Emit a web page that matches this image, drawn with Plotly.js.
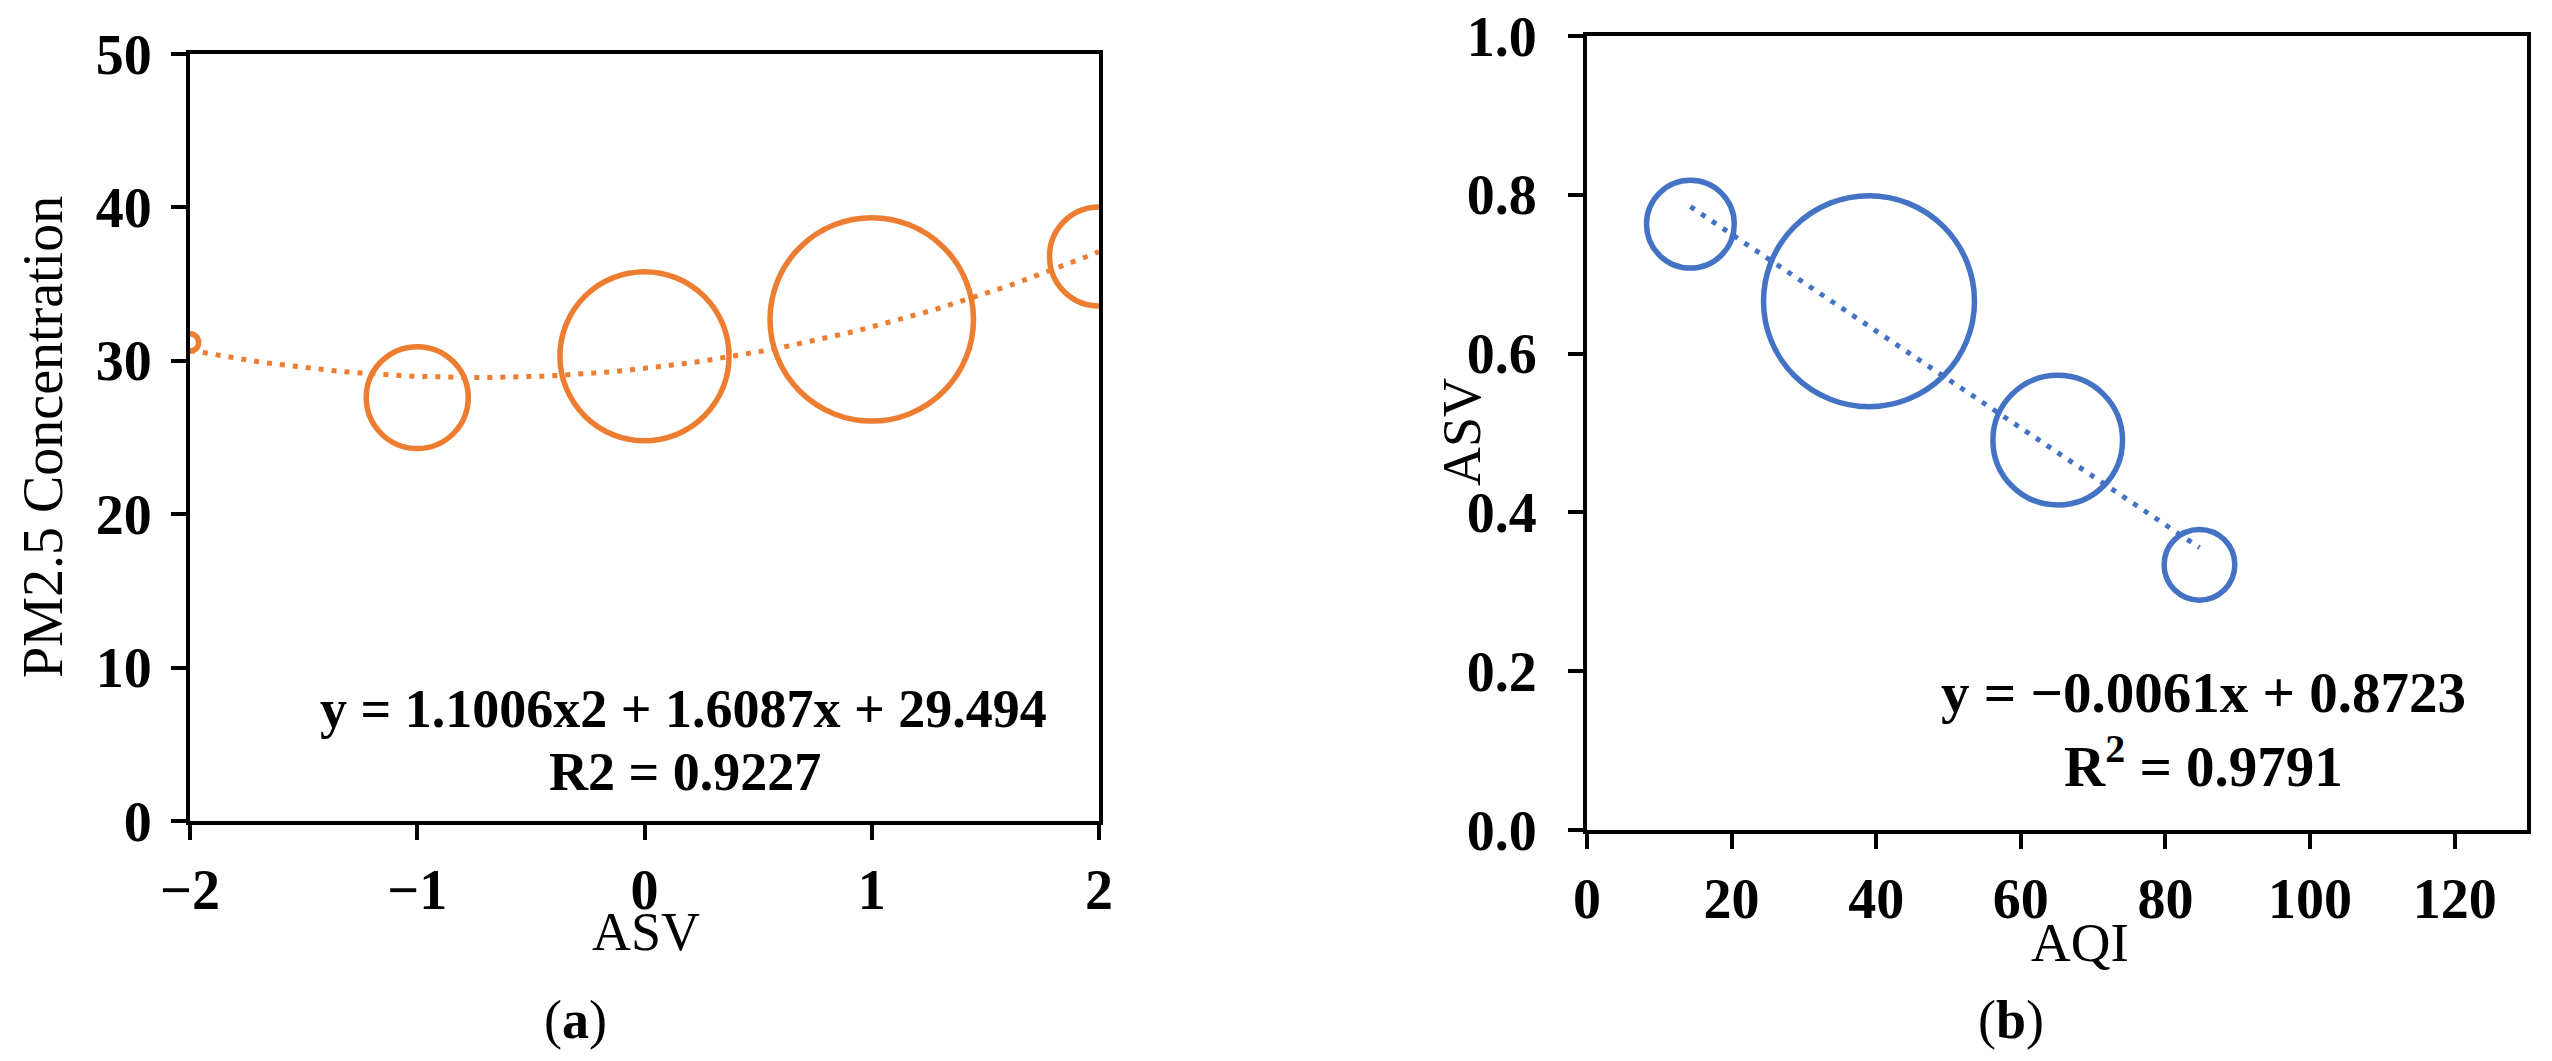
<!DOCTYPE html>
<html>
<head>
<meta charset="utf-8">
<script src="https://cdn.plot.ly/plotly-3.0.1.min.js"></script>
<style>html,body{margin:0;padding:0;background:#fff;}#chart{width:2552px;height:1061px;}</style>
</head>
<body>
<div id="chart"></div>
<script>
// ---- Panel (a): ASV vs PM2.5 ----
const asvA = [-2, -1, 0, 1, 2];
const pm25 = [31.2, 27.6, 30.3, 32.7, 36.8];
const bubbleA = [3, 104, 286, 414, 98];
const trendA = [1.1006, 1.6087, 29.494]; // y = a x^2 + b x + c
const eqA1 = 'y = 1.1006x2 + 1.6087x + 29.494';
const eqA2 = 'R2 = 0.9227';

// ---- Panel (b): AQI vs ASV ----
const aqi = [14.3, 39.0, 65.1, 84.7];
const asvB = [0.763, 0.666, 0.491, 0.334];
const bubbleB = [77, 445, 168, 50];
const trendB = [-0.0061, 0.8723]; // y = m x + k
const eqB1 = 'y = \u22120.0061x + 0.8723';
const eqB2 = 'R<sup>2</sup> = 0.9791';

const W = 2552, H = 1061;
const orange = '#ED7D31', blue = '#4472C4';
const serif = 'Liberation Serif, Times New Roman, serif';

// trendline samples from the stated equations
const tAx = [], tAy = [];
for (let i = 0; i <= 80; i++) {
  const x = asvA[0] + (asvA[asvA.length - 1] - asvA[0]) * i / 80;
  tAx.push(x); tAy.push(trendA[0] * x * x + trendA[1] * x + trendA[2]);
}
const bx0 = Math.min(...aqi), bx1 = Math.max(...aqi);
const tBx = [bx0, bx1], tBy = tBx.map(x => trendB[0] * x + trendB[1]);

const traces = [
  {x: tAx, y: tAy, mode: 'lines', xaxis: 'x', yaxis: 'y',
   line: {color: orange, width: 5, dash: '5px,8px'}, hoverinfo: 'skip'},
  {x: asvA, y: pm25, mode: 'markers', xaxis: 'x', yaxis: 'y',
   marker: {size: bubbleA, sizemode: 'area', sizeref: 0.02, color: 'rgba(0,0,0,0)', opacity: 1,
            line: {color: orange, width: 5.5}}},
  {x: tBx, y: tBy, mode: 'lines', xaxis: 'x2', yaxis: 'y2',
   line: {color: blue, width: 5, dash: '5px,8px'}, hoverinfo: 'skip'},
  {x: aqi, y: asvB, mode: 'markers', xaxis: 'x2', yaxis: 'y2',
   marker: {size: bubbleB, sizemode: 'area', sizeref: 0.02, color: 'rgba(0,0,0,0)', opacity: 1,
            line: {color: blue, width: 5.5}}}
];

const tickFont = {family: serif, size: 56, color: '#000', weight: 'bold'};
const axBase = {
  showgrid: false, zeroline: false, showline: true, linecolor: '#000', linewidth: 4,
  mirror: true, ticks: 'outside', ticklen: 15, tickwidth: 4, tickcolor: '#000',
  tickfont: tickFont, fixedrange: true
};

const px = v => v / W, py = v => 1 - v / H;

function ann(text, x, y, size, bold, angle) {
  return {text: text, xref: 'paper', yref: 'paper', x: px(x), y: py(y),
    xanchor: 'center', yanchor: 'middle', showarrow: false, textangle: angle || 0,
    font: {family: serif, size: size, color: '#000', weight: bold ? 'bold' : 'normal'}};
}

const layout = {
  width: W, height: H, showlegend: false,
  paper_bgcolor: '#fff', plot_bgcolor: '#fff',
  margin: {l: 0, r: 0, t: 0, b: 0},
  xaxis: Object.assign({}, axBase, {domain: [px(190), px(1099)], range: [-2, 2], dtick: 1,
    anchor: 'y', ticklabelstandoff: 2}),
  yaxis: Object.assign({}, axBase, {domain: [py(821), py(54)], range: [0, 50], dtick: 10,
    anchor: 'x', ticklabelstandoff: 8}),
  xaxis2: Object.assign({}, axBase, {domain: [px(1587), px(2527)], range: [0, 130],
    tickvals: [0, 20, 40, 60, 80, 100, 120], anchor: 'y2', ticklabelstandoff: 2}),
  yaxis2: Object.assign({}, axBase, {domain: [py(830), py(36)], range: [0, 1], dtick: 0.2,
    tickformat: '.1f', anchor: 'x2', ticklabelstandoff: 20}),
  annotations: [
    ann(eqA1, 683, 709, 54, true),
    ann(eqA2, 685, 772, 54, true),
    ann(eqB1, 2203, 692, 57, true),
    ann(eqB2, 2203, 762, 57, true),
    ann('ASV', 646, 932, 54, false),
    ann('PM2.5 Concentration', 43, 437, 56, false, -90),
    ann('AQI', 2080, 942, 55, false),
    ann('ASV', 1462, 432, 54, false, -90),
    ann('(<b>a</b>)', 575, 1020, 54, false),
    ann('(<b>b</b>)', 2011, 1020, 54, false)
  ]
};

Plotly.newPlot('chart', traces, layout, {staticPlot: true, displayModeBar: false});
</script>
</body>
</html>
